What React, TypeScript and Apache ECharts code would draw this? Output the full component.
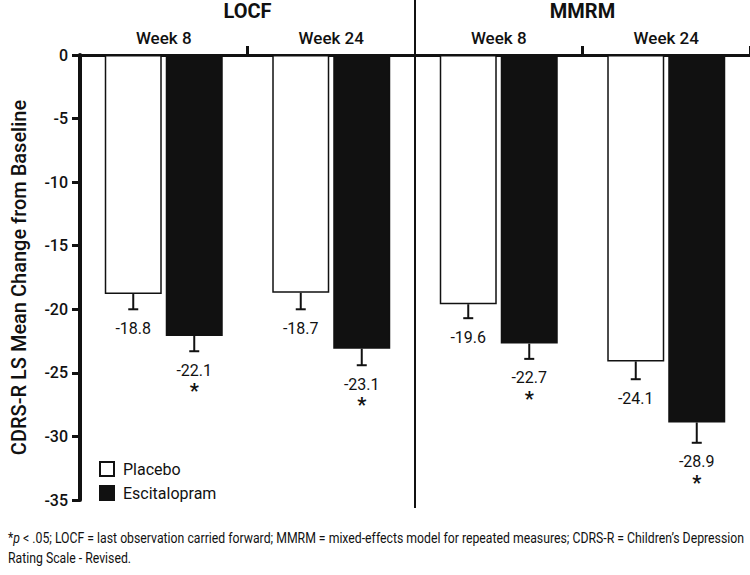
import React, { useEffect, useRef } from "react";
import * as echarts from "echarts";

const weeks = ["Week 8", "Week 24", "Week 8", "Week 24"];
const analyses = ["LOCF", "MMRM"];
const placebo = [-18.8, -18.7, -19.6, -24.1];
const escitalopram = [-22.1, -23.1, -22.7, -28.9];
const placeboSE = [1.2, 1.3, 1.1, 1.4];
const escitalopramSE = [1.2, 1.3, 1.2, 1.6];
const placeboSig = [0, 0, 0, 0];
const escitalopramSig = [1, 1, 1, 1];
const yMin = -35;
const yMax = 0;
const yStep = 5;
const yTitle = "CDRS-R LS Mean Change from Baseline";
const footnoteLine1 =
  "*{i|p} < .05; LOCF = last observation carried forward; MMRM = mixed-effects model for repeated measures; CDRS-R = Children\u2019s Depression";
const footnoteLine2 = "Rating Scale - Revised.";

const FONT = 'Roboto, "Liberation Sans", sans-serif';
const INK = "#111111";
const BAR_W = 57;
const GAP = 4;
const FOOT_SIZE = 15;

function measure(text: string, font: string): number {
  const ctx = document.createElement("canvas").getContext("2d");
  if (!ctx) return text.length * 6.5;
  ctx.font = font;
  return ctx.measureText(text).width;
}

function errorSeries(name: string, values: number[], se: number[], sig: number[], side: number) {
  return {
    type: "custom",
    name,
    coordinateSystem: "cartesian2d",
    xAxisIndex: 0,
    yAxisIndex: 0,
    encode: { x: 0, y: 1 },
    silent: true,
    z: 5,
    data: values.map((v, i) => [i, v, se[i], sig[i]]),
    renderItem: (_params: any, api: any) => {
      const idx = api.value(0);
      const v = api.value(1);
      const e = api.value(2);
      const s = api.value(3);
      const end = api.coord([idx, v]);
      const low = api.coord([idx, v - e]);
      const x = end[0] + (side * (BAR_W + GAP)) / 2;
      const children: any[] = [
        { type: "line", shape: { x1: x, y1: end[1], x2: x, y2: low[1] }, style: { stroke: INK, lineWidth: 2 } },
        { type: "line", shape: { x1: x - 5, y1: low[1], x2: x + 5, y2: low[1] }, style: { stroke: INK, lineWidth: 2 } },
        {
          type: "text",
          x,
          y: low[1] + 19,
          style: { text: v.toFixed(1), fill: INK, font: `16px ${FONT}`, align: "center", verticalAlign: "middle" },
        },
      ];
      if (s) {
        children.push({
          type: "text",
          x,
          y: low[1] + 40,
          style: { text: "*", fill: INK, font: `bold 20px ${FONT}`, align: "center", verticalAlign: "middle" },
        });
      }
      return { type: "group", children };
    },
  };
}

export default function App() {
  const ref = useRef<HTMLDivElement>(null);
  useEffect(() => {
    const chart = echarts.init(ref.current!, null, { renderer: "svg" });
    const footFont = `${FOOT_SIZE}px ${FONT}`;
    const plain1 = footnoteLine1.replace("{i|p}", "p");
    const w1 = measure(plain1, footFont);
    const footScale = Math.min(1, 737 / w1);
    chart.setOption({
      animation: false,
      backgroundColor: "#ffffff",
      textStyle: { fontFamily: FONT, color: INK },
      grid: { left: 80, right: 0, top: 55, bottom: 75, containLabel: false },
      legend: {
        orient: "vertical",
        left: 99,
        top: 461,
        padding: 0,
        itemWidth: 14,
        itemHeight: 14,
        itemGap: 8,
        icon: "rect",
        data: ["Placebo", "Escitalopram"],
        textStyle: { fontFamily: FONT, fontSize: 16, color: INK, padding: [0, 0, 0, 4] },
      },
      xAxis: [
        {
          type: "category",
          data: weeks,
          position: "top",
          axisLine: { show: true, lineStyle: { color: INK, width: 3 } },
          axisTick: {
            show: true,
            interval: (index: number) => index === 1 || index === 3,
            length: 9,
            lineStyle: { color: INK, width: 3 },
          },
          axisLabel: { margin: 9, fontFamily: FONT, fontSize: 17, fontWeight: 500, color: INK },
        },
        {
          type: "category",
          data: analyses,
          position: "top",
          axisLine: { show: false },
          axisTick: { show: false },
          axisLabel: { margin: 34, fontFamily: FONT, fontSize: 20, fontWeight: "bold", color: INK },
        },
      ],
      yAxis: {
        type: "value",
        min: yMin,
        max: yMax,
        interval: yStep,
        name: yTitle,
        nameLocation: "middle",
        nameRotate: 90,
        nameGap: 51,
        nameTextStyle: { fontFamily: FONT, fontSize: 20, fontWeight: 500, color: INK },
        axisLine: { show: true, onZero: false, lineStyle: { color: INK, width: 4 } },
        axisTick: { show: true, length: 8, lineStyle: { color: INK, width: 3 } },
        axisLabel: { margin: 12, fontFamily: FONT, fontSize: 16, fontWeight: 500, color: INK },
        splitLine: { show: false },
      },
      series: [
        {
          type: "bar",
          name: "Placebo",
          data: placebo,
          barWidth: BAR_W,
          barGap: `${((GAP / BAR_W) * 100).toFixed(1)}%`,
          itemStyle: { color: "#ffffff", borderColor: INK, borderWidth: 1.5 },
        },
        {
          type: "bar",
          name: "Escitalopram",
          data: escitalopram,
          barWidth: BAR_W,
          itemStyle: { color: INK, borderColor: INK, borderWidth: 1.5 },
        },
        errorSeries("Placebo SE", placebo, placeboSE, placeboSig, -1),
        errorSeries("Escitalopram SE", escitalopram, escitalopramSE, escitalopramSig, 1),
      ],
      graphic: [
        { type: "line", shape: { x1: 415, y1: 0, x2: 415, y2: 508 }, style: { stroke: INK, lineWidth: 2 }, z: 10 },
        {
          type: "text",
          x: 8,
          y: 538,
          scaleX: footScale,
          style: {
            text: footnoteLine1,
            fill: INK,
            font: footFont,
            verticalAlign: "middle",
            rich: { i: { fontStyle: "italic", fontFamily: FONT, fontSize: FOOT_SIZE, fill: INK } },
          },
        },
        {
          type: "text",
          x: 8,
          y: 558,
          scaleX: footScale,
          style: { text: footnoteLine2, fill: INK, font: footFont, verticalAlign: "middle" },
        },
      ],
    });
    return () => chart.dispose();
  }, []);
  return <div ref={ref} style={{ position: "fixed", left: 0, top: 0, width: 750, height: 575 }} />;
}
